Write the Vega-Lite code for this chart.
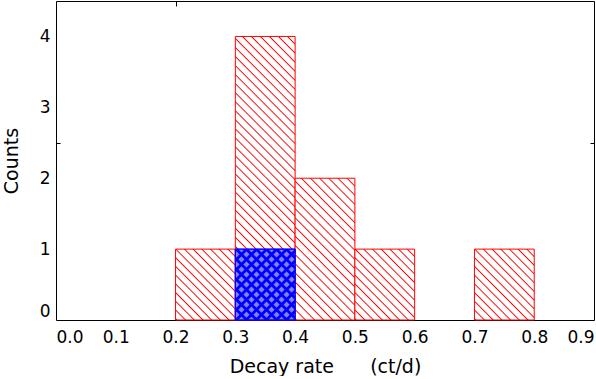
{
  "$schema": "https://vega.github.io/schema/vega-lite/v6.json",
  "width": 538,
  "height": 319,
  "padding": {"left": 2, "top": 0, "right": 0, "bottom": 0},
  "background": "white",
  "data": {"values": [
    {"lo": 0.2, "hi": 0.3, "n": 1, "set": "all"},
    {"lo": 0.3, "hi": 0.4, "n": 4, "set": "all"},
    {"lo": 0.4, "hi": 0.5, "n": 2, "set": "all"},
    {"lo": 0.5, "hi": 0.6, "n": 1, "set": "all"},
    {"lo": 0.7, "hi": 0.8, "n": 1, "set": "all"},
    {"lo": 0.3, "hi": 0.4, "n": 1, "set": "sub"}
  ]},
  "config": {
    "font": "DejaVu Sans",
    "view": {"stroke": null},
    "axis": {
      "labelColor": "black", "titleColor": "black", "domainColor": "black", "tickColor": "black",
      "labelFont": "DejaVu Sans", "titleFont": "DejaVu Sans", "labelFontSize": 17, "titleFontSize": 19,
      "titleFontWeight": "normal", "grid": false, "zindex": 1, "domainWidth": 1, "tickWidth": 1
    }
  },
  "resolve": {"axis": {"x": "independent", "y": "independent"}},
  "layer": [
    {
      "transform": [{"filter": "datum.set === 'all'"}],
      "mark": {"type": "bar", "stroke": "#ff0000", "strokeWidth": 1},
      "encoding": {
        "x": {"field": "lo", "type": "quantitative", "scale": {"domain": [0, 0.9], "nice": false, "zero": false},
          "axis": {"orient": "bottom", "values": [0, 0.1, 0.2, 0.3, 0.4, 0.5, 0.6, 0.7, 0.8, 0.9], "format": ".1f", "ticks": false, "labelFlush": true, "labelPadding": 9, "title": "Decay rate\u00a0\u00a0\u00a0\u00a0\u00a0 (ct/d)", "titlePadding": 12}},
        "x2": {"field": "hi"},
        "y": {"field": "n", "type": "quantitative", "stack": null, "scale": {"domain": [0, 4.5], "nice": false},
          "axis": {"orient": "left", "values": [0, 1, 2, 2.5, 3, 4], "labelExpr": "datum.value == 2.5 ? '' : datum.label", "tickSize": -4, "tickOpacity": {"condition": {"test": "datum.value == 2.5", "value": 1}, "value": 0}, "labelFlush": true, "labelPadding": 10, "title": "Counts", "titlePadding": 18}},
        "y2": {"datum": 0},
        "fill": {
          "condition": [
            {"test": "datum.n === 4", "value": {"gradient": "linear", "x1": 0, "y1": 1, "x2": 0.2453, "y2": -0.1597, "stops": [
              {"offset": 0, "color": "#fff"}, {"offset": 0.0038, "color": "#f00"}, {"offset": 0.0076, "color": "#fff"},
              {"offset": 0.0263, "color": "#fff"}, {"offset": 0.0301, "color": "#f00"}, {"offset": 0.0339, "color": "#fff"},
              {"offset": 0.0526, "color": "#fff"}, {"offset": 0.0564, "color": "#f00"}, {"offset": 0.0602, "color": "#fff"},
              {"offset": 0.0789, "color": "#fff"}, {"offset": 0.0827, "color": "#f00"}, {"offset": 0.0865, "color": "#fff"},
              {"offset": 0.1053, "color": "#fff"}, {"offset": 0.1091, "color": "#f00"}, {"offset": 0.1129, "color": "#fff"},
              {"offset": 0.1316, "color": "#fff"}, {"offset": 0.1354, "color": "#f00"}, {"offset": 0.1392, "color": "#fff"},
              {"offset": 0.1579, "color": "#fff"}, {"offset": 0.1617, "color": "#f00"}, {"offset": 0.1655, "color": "#fff"},
              {"offset": 0.1842, "color": "#fff"}, {"offset": 0.188, "color": "#f00"}, {"offset": 0.1918, "color": "#fff"},
              {"offset": 0.2105, "color": "#fff"}, {"offset": 0.2143, "color": "#f00"}, {"offset": 0.2181, "color": "#fff"},
              {"offset": 0.2368, "color": "#fff"}, {"offset": 0.2406, "color": "#f00"}, {"offset": 0.2444, "color": "#fff"},
              {"offset": 0.2632, "color": "#fff"}, {"offset": 0.267, "color": "#f00"}, {"offset": 0.2708, "color": "#fff"},
              {"offset": 0.2895, "color": "#fff"}, {"offset": 0.2933, "color": "#f00"}, {"offset": 0.2971, "color": "#fff"},
              {"offset": 0.3158, "color": "#fff"}, {"offset": 0.3196, "color": "#f00"}, {"offset": 0.3234, "color": "#fff"},
              {"offset": 0.3421, "color": "#fff"}, {"offset": 0.3459, "color": "#f00"}, {"offset": 0.3497, "color": "#fff"},
              {"offset": 0.3684, "color": "#fff"}, {"offset": 0.3722, "color": "#f00"}, {"offset": 0.376, "color": "#fff"},
              {"offset": 0.3947, "color": "#fff"}, {"offset": 0.3985, "color": "#f00"}, {"offset": 0.4023, "color": "#fff"},
              {"offset": 0.4211, "color": "#fff"}, {"offset": 0.4249, "color": "#f00"}, {"offset": 0.4287, "color": "#fff"},
              {"offset": 0.4474, "color": "#fff"}, {"offset": 0.4512, "color": "#f00"}, {"offset": 0.455, "color": "#fff"},
              {"offset": 0.4737, "color": "#fff"}, {"offset": 0.4775, "color": "#f00"}, {"offset": 0.4813, "color": "#fff"},
              {"offset": 0.5, "color": "#fff"}, {"offset": 0.5038, "color": "#f00"}, {"offset": 0.5076, "color": "#fff"},
              {"offset": 0.5263, "color": "#fff"}, {"offset": 0.5301, "color": "#f00"}, {"offset": 0.5339, "color": "#fff"},
              {"offset": 0.5526, "color": "#fff"}, {"offset": 0.5564, "color": "#f00"}, {"offset": 0.5602, "color": "#fff"},
              {"offset": 0.5789, "color": "#fff"}, {"offset": 0.5827, "color": "#f00"}, {"offset": 0.5865, "color": "#fff"},
              {"offset": 0.6053, "color": "#fff"}, {"offset": 0.6091, "color": "#f00"}, {"offset": 0.6129, "color": "#fff"},
              {"offset": 0.6316, "color": "#fff"}, {"offset": 0.6354, "color": "#f00"}, {"offset": 0.6392, "color": "#fff"},
              {"offset": 0.6579, "color": "#fff"}, {"offset": 0.6617, "color": "#f00"}, {"offset": 0.6655, "color": "#fff"},
              {"offset": 0.6842, "color": "#fff"}, {"offset": 0.688, "color": "#f00"}, {"offset": 0.6918, "color": "#fff"},
              {"offset": 0.7105, "color": "#fff"}, {"offset": 0.7143, "color": "#f00"}, {"offset": 0.7181, "color": "#fff"},
              {"offset": 0.7368, "color": "#fff"}, {"offset": 0.7406, "color": "#f00"}, {"offset": 0.7444, "color": "#fff"},
              {"offset": 0.7632, "color": "#fff"}, {"offset": 0.767, "color": "#f00"}, {"offset": 0.7708, "color": "#fff"},
              {"offset": 0.7895, "color": "#fff"}, {"offset": 0.7933, "color": "#f00"}, {"offset": 0.7971, "color": "#fff"},
              {"offset": 0.8158, "color": "#fff"}, {"offset": 0.8196, "color": "#f00"}, {"offset": 0.8234, "color": "#fff"},
              {"offset": 0.8421, "color": "#fff"}, {"offset": 0.8459, "color": "#f00"}, {"offset": 0.8497, "color": "#fff"},
              {"offset": 0.8684, "color": "#fff"}, {"offset": 0.8722, "color": "#f00"}, {"offset": 0.876, "color": "#fff"},
              {"offset": 0.8947, "color": "#fff"}, {"offset": 0.8985, "color": "#f00"}, {"offset": 0.9023, "color": "#fff"},
              {"offset": 0.9211, "color": "#fff"}, {"offset": 0.9249, "color": "#f00"}, {"offset": 0.9287, "color": "#fff"},
              {"offset": 0.9474, "color": "#fff"}, {"offset": 0.9512, "color": "#f00"}, {"offset": 0.955, "color": "#fff"},
              {"offset": 0.9737, "color": "#fff"}, {"offset": 0.9775, "color": "#f00"}, {"offset": 0.9813, "color": "#fff"},
              {"offset": 1, "color": "#fff"}
            ]}},
            {"test": "datum.n === 2", "value": {"gradient": "linear", "x1": 0, "y1": 1, "x2": 0.5107, "y2": -0.207, "stops": [
              {"offset": 0, "color": "#fff"}, {"offset": 0.0064, "color": "#f00"}, {"offset": 0.0128, "color": "#fff"},
              {"offset": 0.0455, "color": "#fff"}, {"offset": 0.0519, "color": "#f00"}, {"offset": 0.0583, "color": "#fff"},
              {"offset": 0.0909, "color": "#fff"}, {"offset": 0.0973, "color": "#f00"}, {"offset": 0.1037, "color": "#fff"},
              {"offset": 0.1364, "color": "#fff"}, {"offset": 0.1428, "color": "#f00"}, {"offset": 0.1492, "color": "#fff"},
              {"offset": 0.1818, "color": "#fff"}, {"offset": 0.1882, "color": "#f00"}, {"offset": 0.1946, "color": "#fff"},
              {"offset": 0.2273, "color": "#fff"}, {"offset": 0.2337, "color": "#f00"}, {"offset": 0.2401, "color": "#fff"},
              {"offset": 0.2727, "color": "#fff"}, {"offset": 0.2791, "color": "#f00"}, {"offset": 0.2855, "color": "#fff"},
              {"offset": 0.3182, "color": "#fff"}, {"offset": 0.3246, "color": "#f00"}, {"offset": 0.331, "color": "#fff"},
              {"offset": 0.3636, "color": "#fff"}, {"offset": 0.37, "color": "#f00"}, {"offset": 0.3764, "color": "#fff"},
              {"offset": 0.4091, "color": "#fff"}, {"offset": 0.4155, "color": "#f00"}, {"offset": 0.4219, "color": "#fff"},
              {"offset": 0.4545, "color": "#fff"}, {"offset": 0.4609, "color": "#f00"}, {"offset": 0.4673, "color": "#fff"},
              {"offset": 0.5, "color": "#fff"}, {"offset": 0.5064, "color": "#f00"}, {"offset": 0.5128, "color": "#fff"},
              {"offset": 0.5455, "color": "#fff"}, {"offset": 0.5519, "color": "#f00"}, {"offset": 0.5583, "color": "#fff"},
              {"offset": 0.5909, "color": "#fff"}, {"offset": 0.5973, "color": "#f00"}, {"offset": 0.6037, "color": "#fff"},
              {"offset": 0.6364, "color": "#fff"}, {"offset": 0.6428, "color": "#f00"}, {"offset": 0.6492, "color": "#fff"},
              {"offset": 0.6818, "color": "#fff"}, {"offset": 0.6882, "color": "#f00"}, {"offset": 0.6946, "color": "#fff"},
              {"offset": 0.7273, "color": "#fff"}, {"offset": 0.7337, "color": "#f00"}, {"offset": 0.7401, "color": "#fff"},
              {"offset": 0.7727, "color": "#fff"}, {"offset": 0.7791, "color": "#f00"}, {"offset": 0.7855, "color": "#fff"},
              {"offset": 0.8182, "color": "#fff"}, {"offset": 0.8246, "color": "#f00"}, {"offset": 0.831, "color": "#fff"},
              {"offset": 0.8636, "color": "#fff"}, {"offset": 0.87, "color": "#f00"}, {"offset": 0.8764, "color": "#fff"},
              {"offset": 0.9091, "color": "#fff"}, {"offset": 0.9155, "color": "#f00"}, {"offset": 0.9219, "color": "#fff"},
              {"offset": 0.9545, "color": "#fff"}, {"offset": 0.9609, "color": "#f00"}, {"offset": 0.9673, "color": "#fff"},
              {"offset": 1, "color": "#fff"}
            ]}}
          ],
          "value": {"gradient": "linear", "x1": 0, "y1": 1, "x2": 0.9104, "y2": -0.0758, "stops": [
            {"offset": 0, "color": "#fff"}, {"offset": 0.01, "color": "#f00"}, {"offset": 0.02, "color": "#fff"},
            {"offset": 0.0667, "color": "#fff"}, {"offset": 0.0767, "color": "#f00"}, {"offset": 0.0867, "color": "#fff"},
            {"offset": 0.1333, "color": "#fff"}, {"offset": 0.1433, "color": "#f00"}, {"offset": 0.1533, "color": "#fff"},
            {"offset": 0.2, "color": "#fff"}, {"offset": 0.21, "color": "#f00"}, {"offset": 0.22, "color": "#fff"},
            {"offset": 0.2667, "color": "#fff"}, {"offset": 0.2767, "color": "#f00"}, {"offset": 0.2867, "color": "#fff"},
            {"offset": 0.3333, "color": "#fff"}, {"offset": 0.3433, "color": "#f00"}, {"offset": 0.3533, "color": "#fff"},
            {"offset": 0.4, "color": "#fff"}, {"offset": 0.41, "color": "#f00"}, {"offset": 0.42, "color": "#fff"},
            {"offset": 0.4667, "color": "#fff"}, {"offset": 0.4767, "color": "#f00"}, {"offset": 0.4867, "color": "#fff"},
            {"offset": 0.5333, "color": "#fff"}, {"offset": 0.5433, "color": "#f00"}, {"offset": 0.5533, "color": "#fff"},
            {"offset": 0.6, "color": "#fff"}, {"offset": 0.61, "color": "#f00"}, {"offset": 0.62, "color": "#fff"},
            {"offset": 0.6667, "color": "#fff"}, {"offset": 0.6767, "color": "#f00"}, {"offset": 0.6867, "color": "#fff"},
            {"offset": 0.7333, "color": "#fff"}, {"offset": 0.7433, "color": "#f00"}, {"offset": 0.7533, "color": "#fff"},
            {"offset": 0.8, "color": "#fff"}, {"offset": 0.81, "color": "#f00"}, {"offset": 0.82, "color": "#fff"},
            {"offset": 0.8667, "color": "#fff"}, {"offset": 0.8767, "color": "#f00"}, {"offset": 0.8867, "color": "#fff"},
            {"offset": 0.9333, "color": "#fff"}, {"offset": 0.9433, "color": "#f00"}, {"offset": 0.9533, "color": "#fff"},
            {"offset": 1, "color": "#fff"}
          ]}
        }
      }
    },
    {
      "transform": [{"filter": "datum.set === 'sub'"}],
      "mark": {"type": "bar", "stroke": "#0000ff", "strokeWidth": 1, "fill": {"gradient": "linear", "x1": 0, "y1": 1, "x2": 0.9104, "y2": -0.0758, "stops": [
        {"offset": 0, "color": "#00f"}, {"offset": 0.02, "color": "#00f"}, {"offset": 0.03, "color": "#8080ff"}, {"offset": 0.0669, "color": "#8080ff"},
        {"offset": 0.0769, "color": "#00f"}, {"offset": 0.0969, "color": "#00f"}, {"offset": 0.1069, "color": "#8080ff"}, {"offset": 0.1438, "color": "#8080ff"},
        {"offset": 0.1538, "color": "#00f"}, {"offset": 0.1738, "color": "#00f"}, {"offset": 0.1838, "color": "#8080ff"}, {"offset": 0.2208, "color": "#8080ff"},
        {"offset": 0.2308, "color": "#00f"}, {"offset": 0.2508, "color": "#00f"}, {"offset": 0.2608, "color": "#8080ff"}, {"offset": 0.2977, "color": "#8080ff"},
        {"offset": 0.3077, "color": "#00f"}, {"offset": 0.3277, "color": "#00f"}, {"offset": 0.3377, "color": "#8080ff"}, {"offset": 0.3746, "color": "#8080ff"},
        {"offset": 0.3846, "color": "#00f"}, {"offset": 0.4046, "color": "#00f"}, {"offset": 0.4146, "color": "#8080ff"}, {"offset": 0.4515, "color": "#8080ff"},
        {"offset": 0.4615, "color": "#00f"}, {"offset": 0.4815, "color": "#00f"}, {"offset": 0.4915, "color": "#8080ff"}, {"offset": 0.5285, "color": "#8080ff"},
        {"offset": 0.5385, "color": "#00f"}, {"offset": 0.5585, "color": "#00f"}, {"offset": 0.5685, "color": "#8080ff"}, {"offset": 0.6054, "color": "#8080ff"},
        {"offset": 0.6154, "color": "#00f"}, {"offset": 0.6354, "color": "#00f"}, {"offset": 0.6454, "color": "#8080ff"}, {"offset": 0.6823, "color": "#8080ff"},
        {"offset": 0.6923, "color": "#00f"}, {"offset": 0.7123, "color": "#00f"}, {"offset": 0.7223, "color": "#8080ff"}, {"offset": 0.7592, "color": "#8080ff"},
        {"offset": 0.7692, "color": "#00f"}, {"offset": 0.7892, "color": "#00f"}, {"offset": 0.7992, "color": "#8080ff"}, {"offset": 0.8362, "color": "#8080ff"},
        {"offset": 0.8462, "color": "#00f"}, {"offset": 0.8662, "color": "#00f"}, {"offset": 0.8762, "color": "#8080ff"}, {"offset": 0.9131, "color": "#8080ff"},
        {"offset": 0.9231, "color": "#00f"}, {"offset": 0.9431, "color": "#00f"}, {"offset": 0.9531, "color": "#8080ff"}, {"offset": 0.99, "color": "#8080ff"},
        {"offset": 1, "color": "#00f"}
      ]}},
      "encoding": {
        "x": {"field": "lo", "type": "quantitative", "scale": {"domain": [0, 0.9], "nice": false, "zero": false},
          "axis": {"orient": "top", "values": [0.2], "labels": false, "tickSize": -5, "title": null}},
        "x2": {"field": "hi"},
        "y": {"field": "n", "type": "quantitative", "stack": null, "scale": {"domain": [0, 4.5], "nice": false},
          "axis": {"orient": "right", "values": [2.5], "labels": false, "tickSize": -4, "title": null}},
        "y2": {"datum": 0}
      }
    },
    {
      "transform": [{"filter": "datum.set === 'sub'"}],
      "mark": {"type": "bar", "stroke": "#0000ff", "strokeWidth": 1, "fill": {"gradient": "linear", "x1": 0, "y1": 0, "x2": 0.9104, "y2": 1.0758, "stops": [
        {"offset": 0, "color": "#00f"}, {"offset": 0.02, "color": "#00f"}, {"offset": 0.03, "color": "rgba(0,0,255,0)"}, {"offset": 0.0669, "color": "rgba(0,0,255,0)"},
        {"offset": 0.0769, "color": "#00f"}, {"offset": 0.0969, "color": "#00f"}, {"offset": 0.1069, "color": "rgba(0,0,255,0)"}, {"offset": 0.1438, "color": "rgba(0,0,255,0)"},
        {"offset": 0.1538, "color": "#00f"}, {"offset": 0.1738, "color": "#00f"}, {"offset": 0.1838, "color": "rgba(0,0,255,0)"}, {"offset": 0.2208, "color": "rgba(0,0,255,0)"},
        {"offset": 0.2308, "color": "#00f"}, {"offset": 0.2508, "color": "#00f"}, {"offset": 0.2608, "color": "rgba(0,0,255,0)"}, {"offset": 0.2977, "color": "rgba(0,0,255,0)"},
        {"offset": 0.3077, "color": "#00f"}, {"offset": 0.3277, "color": "#00f"}, {"offset": 0.3377, "color": "rgba(0,0,255,0)"}, {"offset": 0.3746, "color": "rgba(0,0,255,0)"},
        {"offset": 0.3846, "color": "#00f"}, {"offset": 0.4046, "color": "#00f"}, {"offset": 0.4146, "color": "rgba(0,0,255,0)"}, {"offset": 0.4515, "color": "rgba(0,0,255,0)"},
        {"offset": 0.4615, "color": "#00f"}, {"offset": 0.4815, "color": "#00f"}, {"offset": 0.4915, "color": "rgba(0,0,255,0)"}, {"offset": 0.5285, "color": "rgba(0,0,255,0)"},
        {"offset": 0.5385, "color": "#00f"}, {"offset": 0.5585, "color": "#00f"}, {"offset": 0.5685, "color": "rgba(0,0,255,0)"}, {"offset": 0.6054, "color": "rgba(0,0,255,0)"},
        {"offset": 0.6154, "color": "#00f"}, {"offset": 0.6354, "color": "#00f"}, {"offset": 0.6454, "color": "rgba(0,0,255,0)"}, {"offset": 0.6823, "color": "rgba(0,0,255,0)"},
        {"offset": 0.6923, "color": "#00f"}, {"offset": 0.7123, "color": "#00f"}, {"offset": 0.7223, "color": "rgba(0,0,255,0)"}, {"offset": 0.7592, "color": "rgba(0,0,255,0)"},
        {"offset": 0.7692, "color": "#00f"}, {"offset": 0.7892, "color": "#00f"}, {"offset": 0.7992, "color": "rgba(0,0,255,0)"}, {"offset": 0.8362, "color": "rgba(0,0,255,0)"},
        {"offset": 0.8462, "color": "#00f"}, {"offset": 0.8662, "color": "#00f"}, {"offset": 0.8762, "color": "rgba(0,0,255,0)"}, {"offset": 0.9131, "color": "rgba(0,0,255,0)"},
        {"offset": 0.9231, "color": "#00f"}, {"offset": 0.9431, "color": "#00f"}, {"offset": 0.9531, "color": "rgba(0,0,255,0)"}, {"offset": 0.99, "color": "rgba(0,0,255,0)"},
        {"offset": 1, "color": "#00f"}
      ]}},
      "encoding": {
        "x": {"field": "lo", "type": "quantitative", "scale": {"domain": [0, 0.9], "nice": false, "zero": false}, "axis": null},
        "x2": {"field": "hi"},
        "y": {"field": "n", "type": "quantitative", "stack": null, "scale": {"domain": [0, 4.5], "nice": false}, "axis": null},
        "y2": {"datum": 0}
      }
    }
  ]
}
